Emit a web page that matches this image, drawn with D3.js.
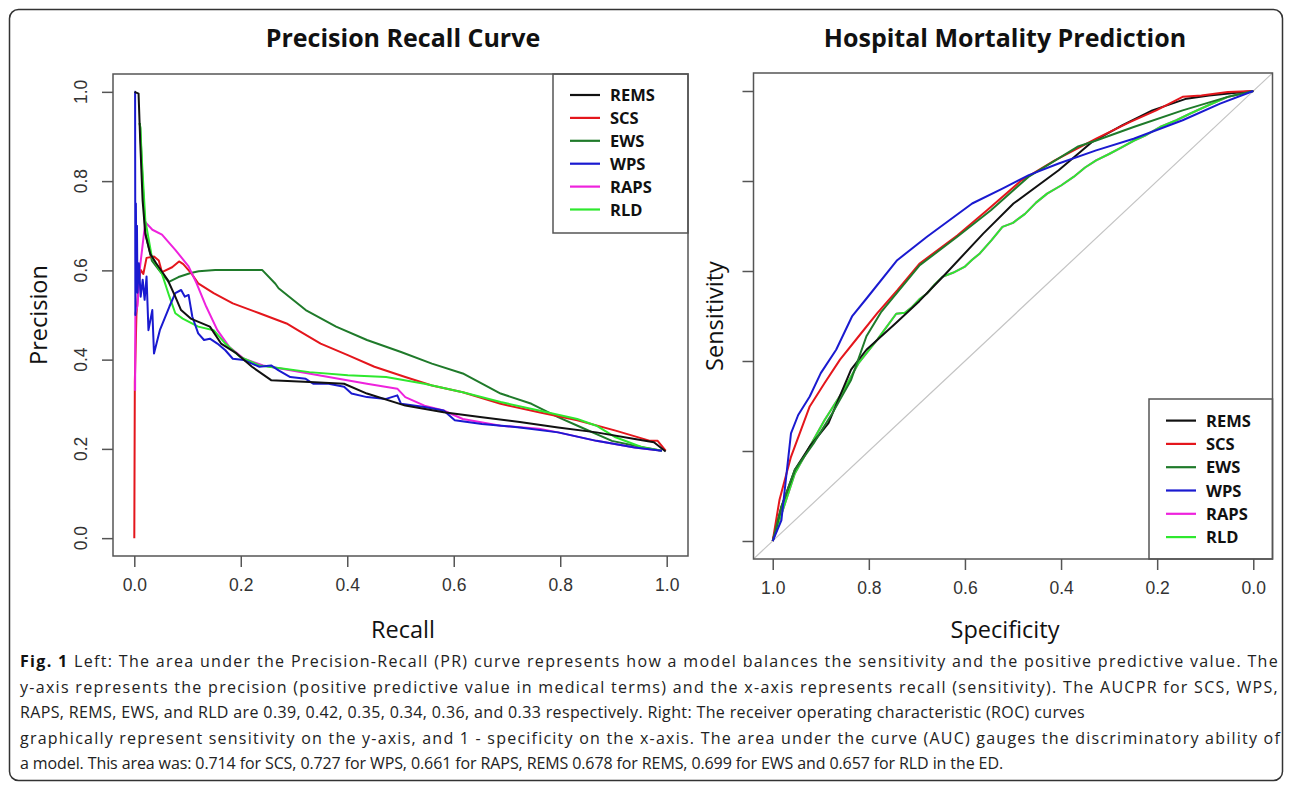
<!DOCTYPE html>
<meta charset="utf-8">
<style>
body { margin: 0; background: #fff; }
svg { display: block; }
.tick text, .ylab { font-family: "Liberation Sans", Arial, sans-serif; font-size: 17.5px; fill: #333; }
.tick line { stroke: #555; stroke-width: 1.5px; }
.box { fill: none; stroke: #555; stroke-width: 1.5px; }
.curve { fill: none; stroke-width: 2px; stroke-linejoin: round; }
.legend text { font-family: "Open Sans", sans-serif; font-weight: 700; font-size: 16.5px; fill: #111; }
.atitle { font-family: "Open Sans", sans-serif; font-size: 23.5px; fill: #111; }
.ptitle { font-family: "Open Sans", sans-serif; font-weight: 700; font-size: 25px; fill: #111; }
.caption { font-family: "Open Sans", sans-serif; font-size: 16px; fill: #222; }
</style>
<svg width="1292" height="789"></svg>
<script src="https://d3js.org/d3.v7.min.js"></script>
<script>

var svg = d3.select("svg");

// series names + colours (same order in both legends)
var names = ["REMS", "SCS", "EWS", "WPS", "RAPS", "RLD"];
var colors = ["#111111", "#e4161c", "#1f7a2a", "#1a1ad0", "#ee22dd", "#2ee82e"];

var ticks = [0, 0.2, 0.4, 0.6, 0.8, 1.0];

// precision-recall curves: [recall, precision]
var remsPR = [[0.0005,1.0],[0.008,0.996],[0.0113,0.884],[0.0156,0.757],[0.0207,0.682],[0.030,0.637],[0.041,0.616],
  [0.0626,0.579],[0.077,0.541],[0.0878,0.511],[0.106,0.492],[0.142,0.474],[0.163,0.436],[0.192,0.414],[0.221,0.384],
  [0.257,0.354],[0.329,0.350],[0.394,0.346],[0.437,0.324],[0.509,0.297],[0.581,0.282],[0.653,0.271],[0.724,0.260],
  [0.796,0.248],[0.868,0.237],[0.940,0.222],[0.976,0.215],[0.998,0.194]];
var scsPR = [[0.0,0.0],[0.001,0.35],[0.004,0.50],[0.008,0.57],[0.012,0.601],[0.017,0.592],[0.023,0.628],[0.037,0.631],
  [0.046,0.622],[0.052,0.596],[0.071,0.607],[0.084,0.620],[0.092,0.614],[0.108,0.592],[0.120,0.571],[0.149,0.549],
  [0.185,0.526],[0.235,0.504],[0.286,0.481],[0.307,0.466],[0.350,0.436],[0.401,0.410],[0.451,0.384],[0.509,0.361],
  [0.559,0.342],[0.617,0.327],[0.688,0.301],[0.760,0.282],[0.832,0.264],[0.904,0.241],[0.969,0.218],[0.983,0.218],
  [0.998,0.196]];
var ewsPR = [[0.010,0.93],[0.0113,0.918],[0.0143,0.831],[0.0207,0.682],[0.033,0.622],[0.052,0.592],[0.065,0.574],
  [0.083,0.585],[0.106,0.594],[0.121,0.598],[0.152,0.601],[0.240,0.601],[0.265,0.570],[0.271,0.560],[0.322,0.511],
  [0.379,0.474],[0.437,0.444],[0.501,0.417],[0.559,0.391],[0.617,0.369],[0.653,0.346],[0.688,0.324],[0.746,0.301],
  [0.796,0.271],[0.840,0.248],[0.897,0.218],[0.940,0.207],[0.991,0.196]];
var wpsPR = [[0.0005,1.0],[0.0015,1.0],[0.002,0.50],[0.003,0.75],[0.004,0.58],[0.005,0.70],[0.006,0.55],[0.0086,0.616],
  [0.012,0.541],[0.0158,0.579],[0.0194,0.534],[0.023,0.586],[0.0266,0.466],[0.0338,0.511],[0.037,0.414],[0.048,0.466],
  [0.066,0.519],[0.077,0.549],[0.088,0.556],[0.095,0.541],[0.102,0.545],[0.109,0.496],[0.120,0.459],[0.131,0.444],
  [0.142,0.447],[0.156,0.436],[0.171,0.421],[0.185,0.402],[0.206,0.399],[0.221,0.391],[0.235,0.384],[0.257,0.387],
  [0.271,0.376],[0.293,0.361],[0.322,0.357],[0.336,0.346],[0.365,0.346],[0.394,0.339],[0.408,0.324],[0.437,0.316],
  [0.473,0.312],[0.494,0.320],[0.501,0.301],[0.545,0.294],[0.581,0.286],[0.602,0.264],[0.653,0.256],[0.724,0.248],
  [0.796,0.237],[0.868,0.218],[0.940,0.203],[0.991,0.196]];
var rapsPR = [[0.0015,0.33],[0.002,0.504],[0.006,0.52],[0.010,0.60],[0.0207,0.708],[0.034,0.691],[0.052,0.680],
  [0.077,0.646],[0.102,0.609],[0.117,0.571],[0.135,0.519],[0.156,0.466],[0.178,0.429],[0.206,0.402],[0.242,0.387],
  [0.293,0.376],[0.365,0.361],[0.437,0.346],[0.494,0.335],[0.509,0.316],[0.545,0.297],[0.581,0.286],[0.617,0.267],
  [0.688,0.252],[0.760,0.245],[0.796,0.237],[0.868,0.218],[0.940,0.203],[0.991,0.196]];
var rldPR = [[0.010,0.93],[0.0113,0.921],[0.0143,0.846],[0.0207,0.712],[0.033,0.630],[0.052,0.592],[0.066,0.541],
  [0.077,0.504],[0.091,0.492],[0.120,0.474],[0.149,0.466],[0.171,0.436],[0.199,0.406],[0.235,0.387],[0.278,0.380],
  [0.329,0.372],[0.401,0.365],[0.473,0.361],[0.545,0.346],[0.617,0.327],[0.688,0.305],[0.760,0.286],[0.832,0.267],
  [0.868,0.252],[0.904,0.226],[0.955,0.203],[0.991,0.196]];

// ROC curves: [specificity, sensitivity]
var remsROC = [[1,0],[0.982,0.076],[0.954,0.158],[0.923,0.210],[0.884,0.262],[0.837,0.381],[0.805,0.425],[0.743,0.485],
  [0.695,0.533],[0.640,0.594],[0.562,0.683],[0.499,0.750],[0.405,0.824],[0.335,0.887],[0.272,0.924],[0.210,0.957],
  [0.139,0.983],[0.092,0.990],[0,1]];
var scsROC = [[1,0],[0.986,0.091],[0.962,0.187],[0.923,0.299],[0.892,0.351],[0.860,0.403],[0.821,0.455],[0.782,0.507],
  [0.741,0.557],[0.695,0.616],[0.616,0.679],[0.554,0.735],[0.483,0.801],[0.413,0.846],[0.327,0.894],[0.257,0.931],
  [0.202,0.957],[0.147,0.987],[0.108,0.990],[0.053,0.998],[0,1]];
var ewsROC = [[1,0],[0.982,0.076],[0.954,0.158],[0.915,0.217],[0.876,0.284],[0.837,0.358],[0.805,0.455],[0.775,0.508],
  [0.694,0.613],[0.616,0.676],[0.546,0.735],[0.468,0.809],[0.366,0.876],[0.327,0.890],[0.249,0.920],[0.147,0.957],
  [0.053,0.987],[0,1]];
var wpsROC = [[1,0],[0.982,0.046],[0.962,0.239],[0.947,0.280],[0.923,0.321],[0.900,0.373],[0.868,0.425],[0.835,0.499],
  [0.804,0.540],[0.741,0.624],[0.679,0.676],[0.585,0.750],[0.522,0.783],[0.467,0.813],[0.405,0.839],[0.327,0.868],
  [0.249,0.894],[0.147,0.935],[0.069,0.972],[0,1]];
var rldROC = [[1,0],[0.986,0.046],[0.954,0.150],[0.915,0.225],[0.892,0.269],[0.852,0.336],[0.821,0.396],[0.782,0.448],
  [0.743,0.505],[0.725,0.507],[0.710,0.520],[0.695,0.537],[0.679,0.550],[0.663,0.570],[0.647,0.587],[0.625,0.596],
  [0.601,0.609],[0.585,0.625],[0.569,0.639],[0.545,0.668],[0.522,0.698],[0.500,0.707],[0.475,0.727],[0.452,0.752],
  [0.429,0.772],[0.400,0.790],[0.374,0.809],[0.350,0.830],[0.327,0.846],[0.300,0.860],[0.272,0.876],[0.248,0.890],
  [0.225,0.901],[0.194,0.920],[0.160,0.935],[0.131,0.950],[0.090,0.970],[0.053,0.987],[0,1]];
var rapsROC = rldROC.map(function(d) { return [d[0], d[1]]; });

var prSeries = [remsPR, scsPR, ewsPR, wpsPR, rapsPR, rldPR];
var rocSeries = [remsROC, scsROC, ewsROC, wpsROC, rapsROC, rldROC];
var prOrder = [2, 1, 4, 5, 3, 0];
var rocOrder = [4, 5, 0, 1, 2, 3];

var caption = [
  " Left: The area under the Precision-Recall (PR) curve represents how a model balances the sensitivity and the positive predictive value. The",
  "y-axis represents the precision (positive predictive value in medical terms) and the x-axis represents recall (sensitivity). The AUCPR for SCS, WPS,",
  "RAPS, REMS, EWS, and RLD are 0.39, 0.42, 0.35, 0.34, 0.36, and 0.33 respectively. Right: The receiver operating characteristic (ROC) curves",
  "graphically represent sensitivity on the y-axis, and 1 - specificity on the x-axis. The area under the curve (AUC) gauges the discriminatory ability of",
  "a model. This area was: 0.714 for SCS, 0.727 for WPS, 0.661 for RAPS, REMS 0.678 for REMS, 0.699 for EWS and 0.657 for RLD in the ED."
];
var captionEnds = [1279, 1279, 1085, 1281, 1003];

// outer frame
svg.append("rect")
    .attr("x", 9.5).attr("y", 9.5)
    .attr("width", 1273).attr("height", 771)
    .attr("rx", 9)
    .style("fill", "none").style("stroke", "#333").style("stroke-width", 1.5);

var fmt = d3.format(".1f");

function panel(opt) {
  var x = d3.scaleLinear().domain(opt.xdom).range([opt.left, opt.right]);
  var y = d3.scaleLinear().domain([-0.04, 1.04]).range([opt.bottom, opt.top]);
  var g = svg.append("g");

  if (opt.diag) {
    g.append("line")
        .attr("x1", x(1.04)).attr("y1", y(-0.04))
        .attr("x2", x(-0.04)).attr("y2", y(1.04))
        .style("stroke", "#c4c4c4").style("stroke-width", 1.2);
  }

  var line = d3.line().x(function(d) { return x(d[0]); }).y(function(d) { return y(d[1]); });
  opt.order.forEach(function(i) {
    g.append("path")
        .attr("class", "curve")
        .attr("d", line(opt.series[i]))
        .style("stroke", colors[i]);
  });

  g.append("rect").attr("class", "box")
      .attr("x", opt.left).attr("y", opt.top)
      .attr("width", opt.right - opt.left).attr("height", opt.bottom - opt.top);

  var xa = g.append("g")
      .attr("transform", "translate(0," + opt.bottom + ")")
      .call(d3.axisBottom(x).tickValues(ticks).tickFormat(fmt).tickSize(11).tickPadding(12));
  xa.select(".domain").remove();

  var ya = g.append("g")
      .attr("transform", "translate(" + opt.left + ",0)")
      .call(d3.axisLeft(y).tickValues(ticks).tickFormat("").tickSize(11));
  ya.select(".domain").remove();

  // R-style rotated y tick labels
  if (opt.ylabels) {
    ticks.forEach(function(v) {
      g.append("text").attr("class", "ylab")
          .attr("text-anchor", "middle")
          .attr("transform", "translate(" + (opt.left - 26) + "," + y(v) + ") rotate(-90)")
          .text(fmt(v));
    });
  }

  // legend
  var lg = g.append("g").attr("class", "legend");
  lg.append("rect").attr("class", "box")
      .attr("x", opt.leg.x).attr("y", opt.leg.y)
      .attr("width", opt.leg.w).attr("height", opt.leg.h);
  names.forEach(function(n, i) {
    var yy = opt.leg.y0 + i * opt.leg.dy;
    lg.append("line")
        .attr("x1", opt.leg.lx).attr("x2", opt.leg.lx + 30)
        .attr("y1", yy).attr("y2", yy)
        .style("stroke", colors[i]).style("stroke-width", 2.2);
    lg.append("text")
        .attr("x", opt.leg.lx + 40).attr("y", yy + 6)
        .text(n);
  });

  svg.append("text").attr("class", "ptitle")
      .attr("x", opt.tx).attr("y", 47)
      .attr("text-anchor", "middle")
      .text(opt.title);
  svg.append("text").attr("class", "atitle")
      .attr("x", opt.tx).attr("y", 638)
      .attr("text-anchor", "middle")
      .text(opt.xlab);
  svg.append("text").attr("class", "atitle")
      .attr("transform", "translate(" + opt.ylx + "," + (opt.top + opt.bottom) / 2 + ") rotate(-90)")
      .attr("text-anchor", "middle")
      .text(opt.ylab);
}

panel({
  xdom: [-0.04, 1.04], left: 113, right: 688, top: 74, bottom: 556,
  series: prSeries, order: prOrder, ylabels: true, diag: false,
  leg: { x: 553, y: 74, w: 135, h: 159, lx: 570, y0: 95, dy: 22.9 },
  title: "Precision Recall Curve", tx: 403, xlab: "Recall", ylab: "Precision", ylx: 47
});

panel({
  xdom: [1.04, -0.04], left: 753.5, right: 1272.5, top: 73, bottom: 559,
  series: rocSeries, order: rocOrder, ylabels: false, diag: true,
  leg: { x: 1149, y: 399, w: 123.5, h: 160, lx: 1166, y0: 420.6, dy: 23.3 },
  title: "Hospital Mortality Prediction", tx: 1005, xlab: "Specificity", ylab: "Sensitivity", ylx: 723
});

// caption, spread to the measured line ends
caption.forEach(function(s, i) {
  var t = svg.append("text").attr("class", "caption")
      .attr("x", 20).attr("y", 667 + i * 25.5);
  var full = s;
  if (i === 0) {
    t.append("tspan").style("font-weight", 700).style("fill", "#111").text("Fig. 1");
    full = "Fig. 1" + s;
  }
  t.append("tspan").text(s);
  var natural = t.node().getComputedTextLength();
  var extra = (captionEnds[i] - 20 - natural) / full.length;
  t.style("letter-spacing", extra + "px");
});

</script>
